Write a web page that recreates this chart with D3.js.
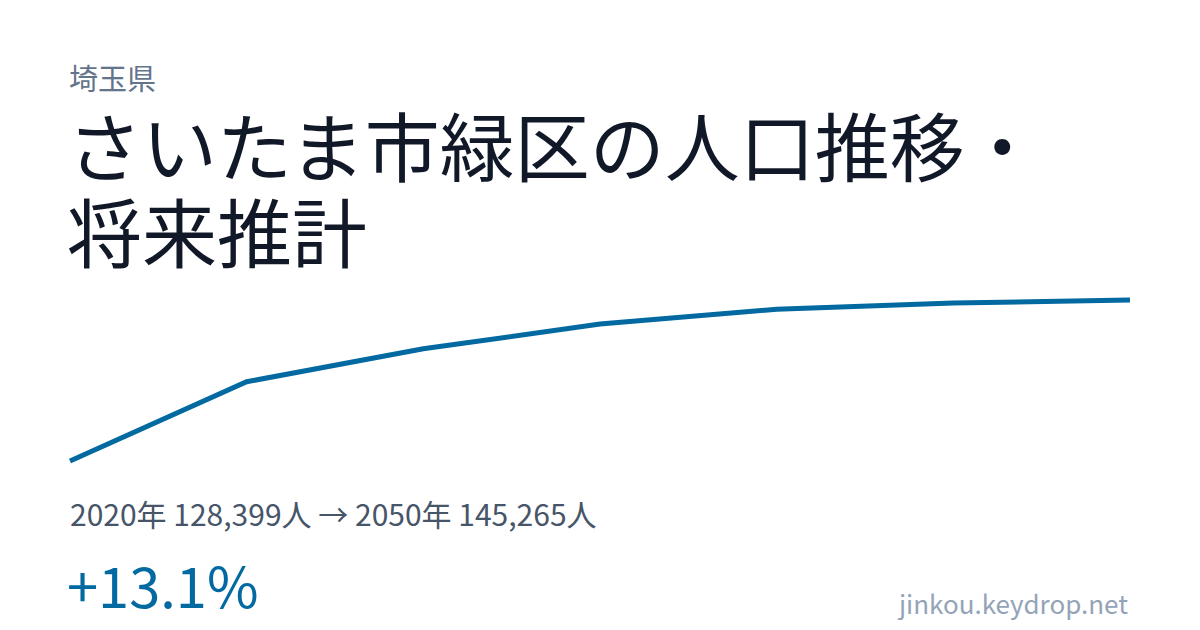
<!DOCTYPE html>
<html><head><meta charset="utf-8">
<script src="https://cdn.jsdelivr.net/npm/d3@7"></script>
<style>
html,body{margin:0;padding:0;background:#fff;}
svg{display:block;font-family:"Noto Sans CJK JP","Noto Sans",sans-serif;}
</style></head>
<body>
<svg id="c" width="1200" height="630"></svg>
<script>
const prefecture = "埼玉県";
const titleLines = ["さいたま市緑区の人口推移・", "将来推計"];
const years = [2020, 2025, 2030, 2035, 2040, 2045, 2050];
const population = [128399, 136700, 140150, 142750, 144300, 144950, 145265];
const siteLabel = "jinkou.keydrop.net";

const svg = d3.select("#c");
const fmt = d3.format(",");
const first = population[0], last = population[population.length - 1];
const pct = (last - first) / first * 100;

svg.append("text").attr("x", 69).attr("y", 90).attr("font-size", 29).attr("fill", "#64748b").text(prefecture);
titleLines.forEach((t, i) => {
  svg.append("text").attr("x", 67).attr("y", 176 + i * 86).attr("font-size", 75).attr("fill", "#111827").text(t);
});

const x = d3.scaleLinear().domain(d3.extent(years)).range([70, 1130]);
const y = d3.scaleLinear().domain(d3.extent(population)).range([461, 300]);
const line = d3.line().x((d, i) => x(years[i])).y(d => y(d));
svg.append("path").datum(population).attr("d", line)
  .attr("fill", "none").attr("stroke", "#0369a1").attr("stroke-width", 5).attr("stroke-linejoin", "miter");

svg.append("text").attr("x", 70).attr("y", 526).attr("font-size", 30).attr("fill", "#475569")
  .text(`${years[0]}年 ${fmt(first)}人 → ${years[years.length-1]}年 ${fmt(last)}人`);
svg.append("text").attr("x", 67).attr("y", 608).attr("font-size", 56).attr("fill", "#0369a1")
  .text(`${pct >= 0 ? "+" : ""}${pct.toFixed(1)}%`);
svg.append("text").attr("x", 1128).attr("y", 614).attr("font-size", 26).attr("fill", "#94a3b8")
  .attr("text-anchor", "end").text(siteLabel);
</script>
</body></html>
